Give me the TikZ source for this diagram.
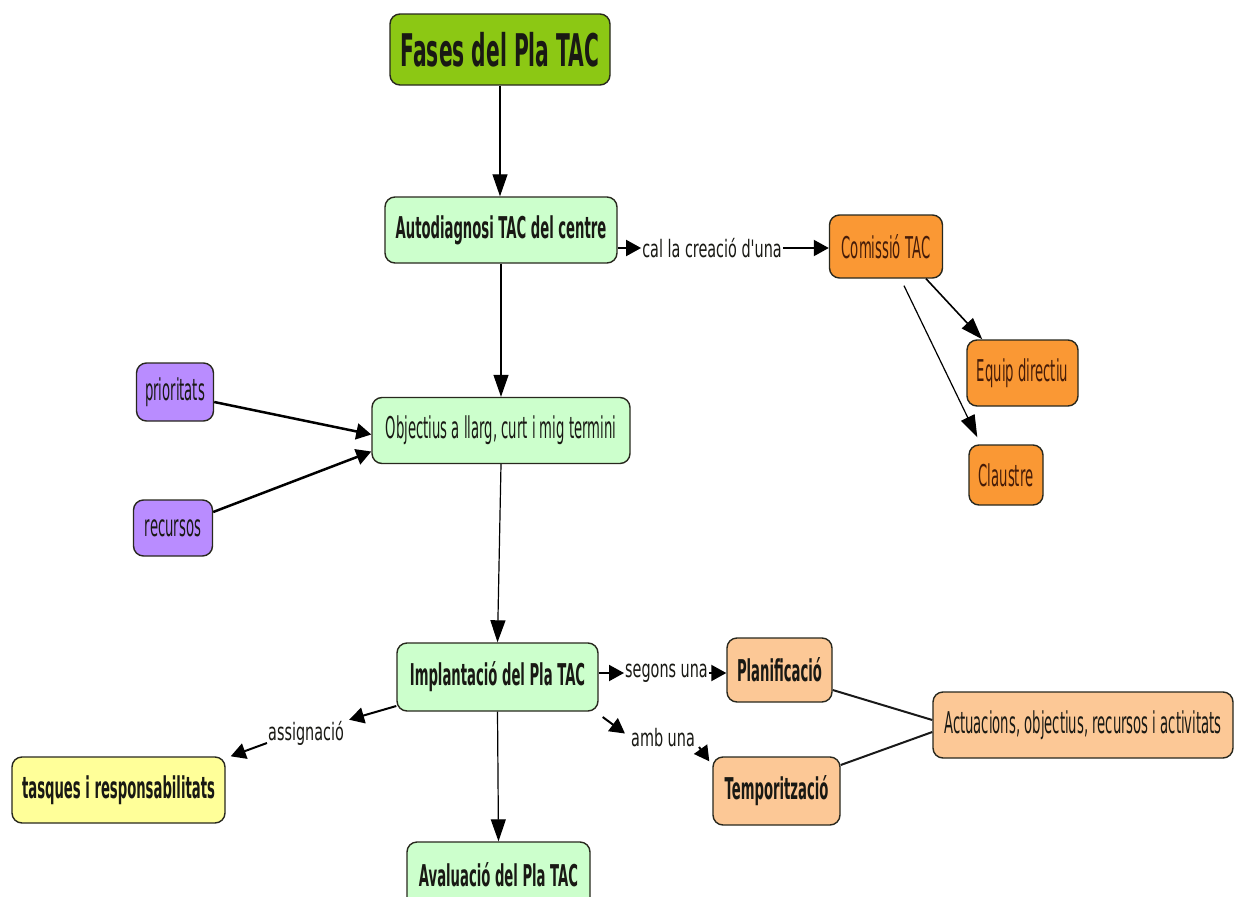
\documentclass[tikz,border=0pt]{standalone}
\usepackage{fontspec}
\setmainfont{DejaVu Sans}[FakeStretch=0.58]
\newfontfamily\nodefont{DejaVu Sans}[FakeStretch=0.44]
\newfontfamily\lblfont{DejaVu Sans}[FakeStretch=0.6, Ligatures=TeXOff]
\newfontfamily\titlefont{DejaVu Sans}[FakeStretch=0.45]
\usetikzlibrary{arrows.meta}
\definecolor{titlegreen}{RGB}{140,200,20}
\definecolor{lgreen}{RGB}{204,255,204}
\definecolor{orng}{RGB}{250,152,52}
\definecolor{lorng}{RGB}{252,200,150}
\definecolor{purp}{RGB}{185,140,255}
\definecolor{lyel}{RGB}{255,255,153}
\definecolor{bord}{RGB}{40,40,30}
\definecolor{txt}{RGB}{25,25,20}
\definecolor{btxt}{RGB}{70,28,8}
\begin{document}
\begin{tikzpicture}[x=1pt,y=-1pt,
  box/.style={draw=bord, line width=1.4pt, rounded corners=10pt, inner sep=0pt, text=txt, font=\nodefont\fontsize{30}{34}\selectfont},
  bbox/.style={box, font=\nodefont\fontsize{30}{34}\selectfont\bfseries},
  lbl/.style={inner sep=1pt, text=txt, font=\lblfont\fontsize{24}{28}\selectfont},
  arrl/.style={draw=black, line width=1.2pt, -{Triangle[length=22pt,width=15pt]}},
  arrs/.style={draw=black, line width=2pt, -{Triangle[length=15pt,width=16pt]}},
  plainln/.style={draw=black!90, line width=2pt}]
\useasboundingbox (0,0) rectangle (1243,897);
\fill[white] (0,0) rectangle (1243,897);

\node[box, fill=titlegreen, minimum width=220pt, minimum height=71pt, font=\titlefont\fontsize{45}{50}\selectfont\bfseries] (fases) at (500,49.5) {Fases del Pla TAC};
\node[bbox, fill=lgreen, minimum width=232pt, minimum height=66pt] (auto) at (501,230) {Autodiagnosi TAC del centre};
\node[lbl] (cal) at (712,248) {cal la creació d'una};
\node[box, fill=orng, text=btxt, minimum width=113pt, minimum height=63pt] (com) at (886,246.5) {Comissió TAC};
\node[box, fill=orng, text=btxt, minimum width=111pt, minimum height=66pt] (equip) at (1022.5,373) {Equip directiu};
\node[box, fill=orng, text=btxt, minimum width=74pt, minimum height=60pt] (claus) at (1006,475) {Claustre};
\node[box, fill=purp, minimum width=77pt, minimum height=58pt] (prio) at (175,392) {prioritats};
\node[box, fill=purp, minimum width=79pt, minimum height=56pt] (recu) at (173,528) {recursos};
\node[box, fill=lgreen, minimum width=258pt, minimum height=66pt] (obj) at (501,430.5) {Objectius a llarg, curt i mig termini};
\node[bbox, fill=lgreen, minimum width=201pt, minimum height=68pt] (impl) at (497.5,677) {Implantació del Pla TAC};
\node[bbox, fill=lgreen, minimum width=183pt, minimum height=66pt] (aval) at (498.5,875) {Avaluació del Pla TAC};
\node[bbox, fill=lyel, minimum width=213pt, minimum height=66pt] (tasq) at (118.5,790) {tasques i responsabilitats};
\node[lbl] (assig) at (306,733) {assignació};
\node[lbl] (seg) at (666.5,673) {segons una};
\node[bbox, fill=lorng, minimum width=105pt, minimum height=64pt] (plan) at (779.5,670) {Planificació};
\node[lbl] (amb) at (663,738) {amb una};
\node[bbox, fill=lorng, minimum width=127pt, minimum height=68pt] (temp) at (776.5,791) {Temporització};
\node[box, fill=lorng, minimum width=300pt, minimum height=66pt] (act) at (1083,725) {Actuacions, objectius, recursos i activitats};

\draw[arrl] (fases.south) -- (fases.south |- auto.north);
\draw[arrs] (auto.east |- cal.west) -- (cal.west);
\draw[arrs] (cal.east) -- (com.west |- cal.east);
\draw[arrl, line width=1.6pt] ([xshift=40pt]com.south) -- ([xshift=16pt]equip.north west);
\draw[arrl] ([xshift=18pt,yshift=-7pt]com.south) -- ([xshift=9pt,yshift=7pt]claus.north west);
\draw[arrl] (auto.south) -- (auto.south |- obj.north);
\draw[arrs, line width=2.5pt] ([yshift=-10pt]prio.east) -- ([yshift=-4pt]obj.west);
\draw[arrs, line width=2.5pt] ([yshift=16pt]recu.east) -- ([yshift=-21pt]obj.west);
\draw[arrl] (obj.south) -- (impl.north);
\draw[arrl] (impl.south) -- (aval.north);
\draw[arrs] ([yshift=-29pt]impl.west) -- ([xshift=4pt]assig.north east);
\draw[arrs] ([yshift=-10pt]assig.west) -- ([xshift=5pt]tasq.north east);
\draw[arrs] (impl.east |- seg.west) -- (seg.west);
\draw[arrs] (seg.east) -- (plan.west |- seg.east);
\draw[arrs] ([xshift=4pt,yshift=-40pt]impl.east) -- ([xshift=-5pt,yshift=-6pt]amb.north west);
\draw[arrs] ([xshift=3pt,yshift=-9pt]amb.east) -- ([xshift=-3pt,yshift=-5pt]temp.north west);
\draw[plainln] ([yshift=-20pt]plan.east) -- ([yshift=5pt]act.west);
\draw[plainln] ([yshift=26pt]temp.east) -- ([yshift=-7pt]act.west);
\end{tikzpicture}
\end{document}
